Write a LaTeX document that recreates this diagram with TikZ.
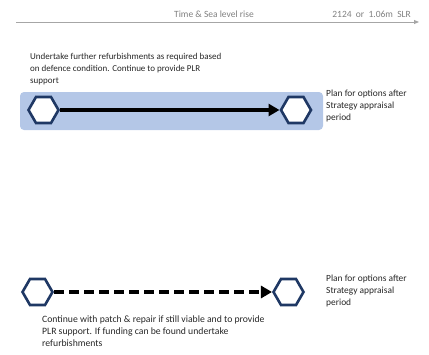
\documentclass[tikz,border=0pt]{standalone}
\usepackage{fontspec}
\setmainfont{Carlito}
\usetikzlibrary{shapes.geometric,arrows.meta}
\definecolor{boxblue}{HTML}{B4C7E7}
\definecolor{hexnavy}{HTML}{1F3864}
\definecolor{axisgray}{HTML}{A6A6A6}
\definecolor{axistext}{HTML}{808080}
\begin{document}
\begin{tikzpicture}[x=1pt,y=-1pt,
  hexnode/.style={regular polygon,regular polygon sides=6,minimum size=30pt,inner sep=0pt,
    draw=hexnavy,line width=2.6pt,fill=white},
  flowarrow/.style={line width=3.2pt,-{Triangle[length=11pt,width=12pt]}},
  note/.style={font=\fontsize{9}{11.8}\selectfont,align=left,inner sep=0pt,anchor=north west,text=black!85},
  bignote/.style={note,font=\fontsize{9.7}{12}\selectfont},
  sidenote/.style={note,font=\fontsize{9.4}{12}\selectfont},
  axislabel/.style={font=\fontsize{9.5}{10}\selectfont,text=axistext,inner sep=0pt}]
\useasboundingbox (0,0) rectangle (429,354);
% axis
\coordinate (axs) at (16,22);
\coordinate (axe) at (419,22);
\draw[axisgray,line width=0.9pt,-{Triangle[length=5pt,width=4pt]}] (axs) -- (axe);
\node[axislabel] (axt) at (214,14) {Time \& Sea level rise};
\node[axislabel,anchor=east] (axy) at (411,14) {2124 \ or \ 1.06m \ SLR};
% top row
\node[fill=boxblue,rounded corners=4pt,minimum width=303pt,minimum height=38pt,inner sep=0pt] (band) at (171.5,111) {};
\node[hexnode] (h1) at (43.5,110) {};
\node[hexnode] (h2) at (296,110) {};
\draw[flowarrow] (h1) -- (h2);
\node[note] (t1) at (30,53) {Undertake further refurbishments as required based\\on defence condition. Continue to provide PLR\\support};
\node[sidenote] (t2) at (326,90) {Plan for options after\\Strategy appraisal\\period};
% bottom row
\node[hexnode] (h3) at (37.5,292) {};
\node[hexnode] (h4) at (288.5,292) {};
\draw[flowarrow,dash pattern=on 10pt off 5pt] (h3) -- (h4);
\node[sidenote] (t3) at (326,275) {Plan for options after\\Strategy appraisal\\period};
\node[bignote] (t4) at (42,316) {Continue with patch \& repair if still viable and to provide\\PLR support. If funding can be found undertake\\refurbishments};
\end{tikzpicture}
\end{document}
